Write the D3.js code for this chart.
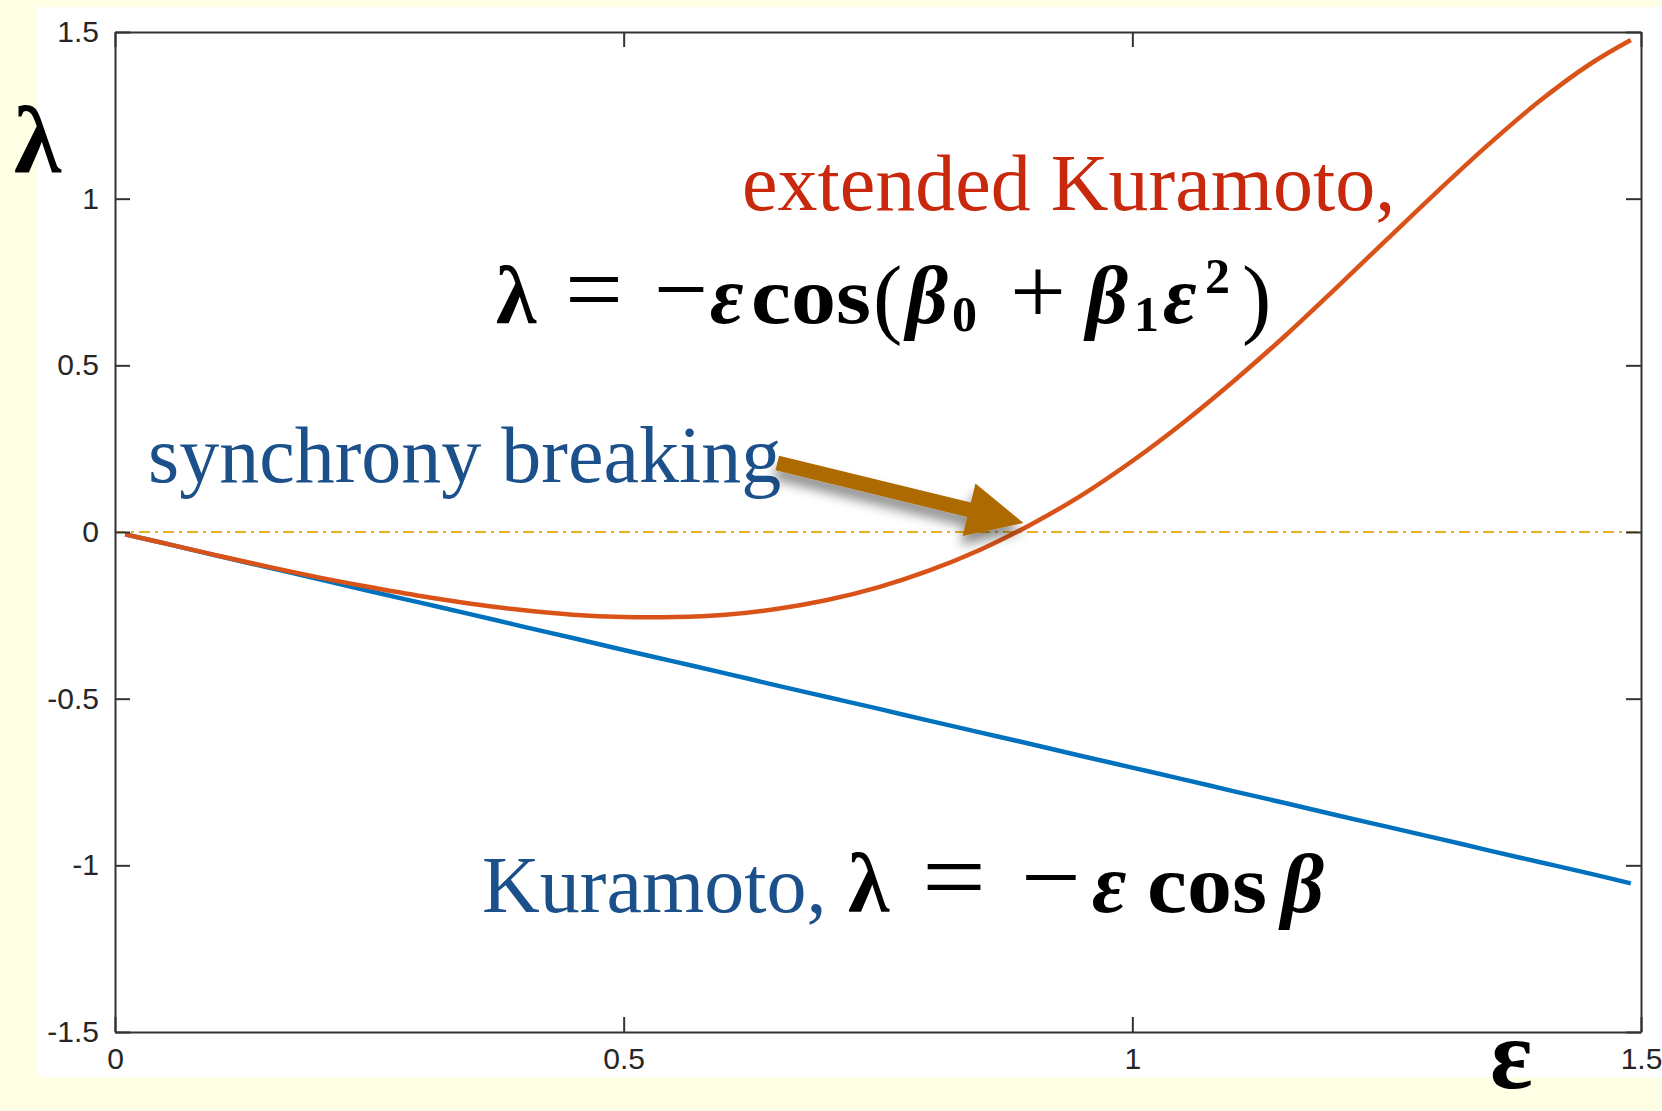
<!DOCTYPE html>
<html>
<head>
<meta charset="utf-8">
<script src="https://cdn.jsdelivr.net/npm/d3@7"></script>
<style>
  html, body { margin: 0; padding: 0; background: #FFFFE6; }
  svg { display: block; }
</style>
</head>
<body>
<svg id="chart" width="1662" height="1111"></svg>
<script>
// Coupling strength samples
const eps = [0.01, 0.05, 0.10, 0.15, 0.20, 0.25, 0.30, 0.35, 0.40, 0.45, 0.50,
             0.55, 0.60, 0.65, 0.70, 0.75, 0.80, 0.85, 0.90, 0.95, 1.00,
             1.05, 1.10, 1.15, 1.20, 1.25, 1.30, 1.35, 1.40, 1.45, 1.49];

// Kuramoto exponent, lambda = -eps cos(beta)
const kuramoto = [-0.007, -0.035, -0.071, -0.106, -0.141, -0.177, -0.212, -0.247, -0.283, -0.318, -0.354,
                  -0.389, -0.424, -0.460, -0.495, -0.530, -0.566, -0.601, -0.636, -0.672, -0.707,
                  -0.742, -0.778, -0.813, -0.849, -0.884, -0.919, -0.955, -0.990, -1.025, -1.054];

// Extended Kuramoto exponent, lambda = -eps cos(beta0 + beta1 eps^2)
const extended = [-0.007, -0.035, -0.070, -0.104, -0.136, -0.165, -0.192, -0.215, -0.234, -0.248, -0.255,
                  -0.255, -0.248, -0.231, -0.204, -0.166, -0.116, -0.054, 0.022, 0.110, 0.213,
                  0.328, 0.454, 0.588, 0.731, 0.877, 1.022, 1.162, 1.292, 1.404, 1.476];

const xTicks = [0, 0.5, 1, 1.5];
const xTickLabels = ["0", "0.5", "1", "1.5"];
const yTicks = [-1.5, -1, -0.5, 0, 0.5, 1, 1.5];
const yTickLabels = ["-1.5", "-1", "-0.5", "0", "0.5", "1", "1.5"];

// Annotation arrow: from the end of "synchrony breaking" to the zero crossing
const arrowFrom = [0.651, 0.207];
const arrowTo = [0.893, 0.027];

const svg = d3.select("#chart");

// white panel
svg.append("rect").attr("x", 38).attr("y", 7).attr("width", 1624).attr("height", 1070).attr("fill", "#ffffff");

const x = d3.scaleLinear().domain([0, 1.5]).range([115, 1641]);
const y = d3.scaleLinear().domain([-1.5, 1.5]).range([1032, 32]);

const axisColor = "#333333";
const tickLen = 15;

// zero reference line
svg.append("line")
  .attr("x1", x(0)).attr("x2", x(1.5)).attr("y1", y(0)).attr("y2", y(0))
  .attr("stroke", "#EDB120").attr("stroke-width", 2)
  .attr("stroke-dasharray", "11,5,3,5");

const line = d3.line()
  .x((d, i) => x(eps[i]))
  .y(d => y(d))
  .curve(d3.curveCatmullRom);

svg.append("path").datum(kuramoto).attr("d", line)
  .attr("fill", "none").attr("stroke", "#0072BD").attr("stroke-width", 4.5);
svg.append("path").datum(extended).attr("d", line)
  .attr("fill", "none").attr("stroke", "#D95319").attr("stroke-width", 4.5);

// axes (box with inward ticks on all sides)
const fmtX = (d, i) => xTickLabels[i];
const fmtY = (d, i) => yTickLabels[i];

const gB = svg.append("g").attr("transform", `translate(0,${y(-1.5)})`)
  .call(d3.axisBottom(x).tickValues(xTicks).tickFormat(fmtX).tickSizeInner(-tickLen).tickSizeOuter(0).tickPadding(16));
const gT = svg.append("g").attr("transform", `translate(0,${y(1.5)})`)
  .call(d3.axisTop(x).tickValues(xTicks).tickFormat("").tickSizeInner(-tickLen).tickSizeOuter(0));
const gL = svg.append("g").attr("transform", `translate(${x(0)},0)`)
  .call(d3.axisLeft(y).tickValues(yTicks).tickFormat(fmtY).tickSizeInner(-tickLen).tickSizeOuter(0).tickPadding(16));
const gR = svg.append("g").attr("transform", `translate(${x(1.5)},0)`)
  .call(d3.axisRight(y).tickValues(yTicks).tickFormat("").tickSizeInner(-tickLen).tickSizeOuter(0));

[gB, gT, gL, gR].forEach(g => {
  g.select(".domain").attr("stroke", axisColor).attr("stroke-width", 2);
  g.selectAll(".tick line").attr("stroke", axisColor).attr("stroke-width", 2);
  g.selectAll(".tick text").attr("fill", "#262626")
    .style("font-family", "'Liberation Sans', Arial, sans-serif").style("font-size", "30px");
});
gB.selectAll(".tick text").attr("dy", "0.71em");

const serif = "'Liberation Serif', 'Times New Roman', serif";

// axis symbols
svg.append("text").attr("x", 14).attr("y", 172).text("λ")
  .style("font-family", serif).style("font-weight", "bold").style("font-size", "96px").attr("fill", "#000");
svg.append("text").attr("x", 1490).attr("y", 1088).text("ε")
  .style("font-family", serif).style("font-weight", "bold").style("font-size", "100px").attr("fill", "#000");

// labels
svg.append("text").attr("x", 742).attr("y", 210).text("extended Kuramoto,")
  .style("font-family", serif).style("font-size", "80px").attr("fill", "#C8280C");

svg.append("text").attr("x", 148).attr("y", 482).text("synchrony breaking")
  .style("font-family", serif).style("font-size", "80px").attr("fill", "#1B508B");

svg.append("text").attr("x", 482).attr("y", 912).text("Kuramoto,")
  .style("font-family", serif).style("font-size", "80px").attr("fill", "#1B508B");

// math set token by token: [text, x, size, weight, style, baseline shift, stretched width]
function formula(tokens, baseY) {
  const g = svg.append("g");
  tokens.forEach(([t, tx, size, weight, style, shift, len]) => {
    const el = g.append("text").attr("x", tx).attr("y", baseY + shift).text(t)
      .style("font-family", serif).style("font-size", size + "px")
      .style("font-weight", weight).style("font-style", style).attr("fill", "#000");
    if (len) el.attr("textLength", len).attr("lengthAdjust", "spacingAndGlyphs");
  });
}

formula([
  ["λ",   496, 82, "bold",   "normal", 0,   0],
  ["=",   565, 100, "normal", "normal", 0,  58],
  ["−",   654, 100, "normal", "normal", 0,  54],
  ["ε",   710, 82, "bold",   "italic", 0,   0],
  ["cos", 751, 80, "bold",   "normal", 0,  120],
  ["(",   873, 88, "normal", "normal", 4,   0],
  ["β",   906, 82, "bold",   "italic", 0,   0],
  ["0",   952, 50, "bold",   "normal", 8,   0],
  ["+",  1010, 96, "normal", "normal", 0,   56],
  ["β",  1086, 82, "bold",   "italic", 0,   0],
  ["1",  1134, 50, "bold",   "normal", 8,   0],
  ["ε",  1163, 82, "bold",   "italic", 0,   0],
  ["2",  1205, 50, "bold",   "normal", -30, 0],
  [")",  1242, 88, "normal", "normal", 4,   0]
], 323);

formula([
  ["λ",   848, 84, "bold",   "normal", 0,   0],
  ["=",   922, 104, "normal", "normal", 0,  64],
  ["−",  1021, 104, "normal", "normal", 0,  60],
  ["ε",  1092, 84, "bold",   "italic", 0,   0],
  ["cos",1147, 82, "bold",   "normal", 0,  120],
  ["β",  1281, 84, "bold",   "italic", 0,   0]
], 912);

// arrow with soft shadow
const defs = svg.append("defs");
const flt = defs.append("filter").attr("id", "shadow").attr("x", "-20%").attr("y", "-40%").attr("width", "140%").attr("height", "180%");
flt.append("feDropShadow").attr("dx", -2).attr("dy", 9).attr("stdDeviation", 6)
  .attr("flood-color", "#000").attr("flood-opacity", 0.45);

const p0 = [x(arrowFrom[0]), y(arrowFrom[1])];
const p1 = [x(arrowTo[0]), y(arrowTo[1])];
const dx = p1[0] - p0[0], dy = p1[1] - p0[1];
const L = Math.hypot(dx, dy);
const ux = dx / L, uy = dy / L, nx = -uy, ny = ux;
const shaftW = 7.5, headW = 27, headL = 56;
const b = [p1[0] - ux * headL, p1[1] - uy * headL];
const pts = [
  [p0[0] + nx * shaftW, p0[1] + ny * shaftW],
  [b[0] + nx * shaftW, b[1] + ny * shaftW],
  [b[0] + nx * headW, b[1] + ny * headW],
  p1,
  [b[0] - nx * headW, b[1] - ny * headW],
  [b[0] - nx * shaftW, b[1] - ny * shaftW],
  [p0[0] - nx * shaftW, p0[1] - ny * shaftW]
];
svg.append("path").attr("d", "M" + pts.map(p => p.join(",")).join("L") + "Z")
  .attr("fill", "#AD6B00").attr("filter", "url(#shadow)");
</script>
</body>
</html>
